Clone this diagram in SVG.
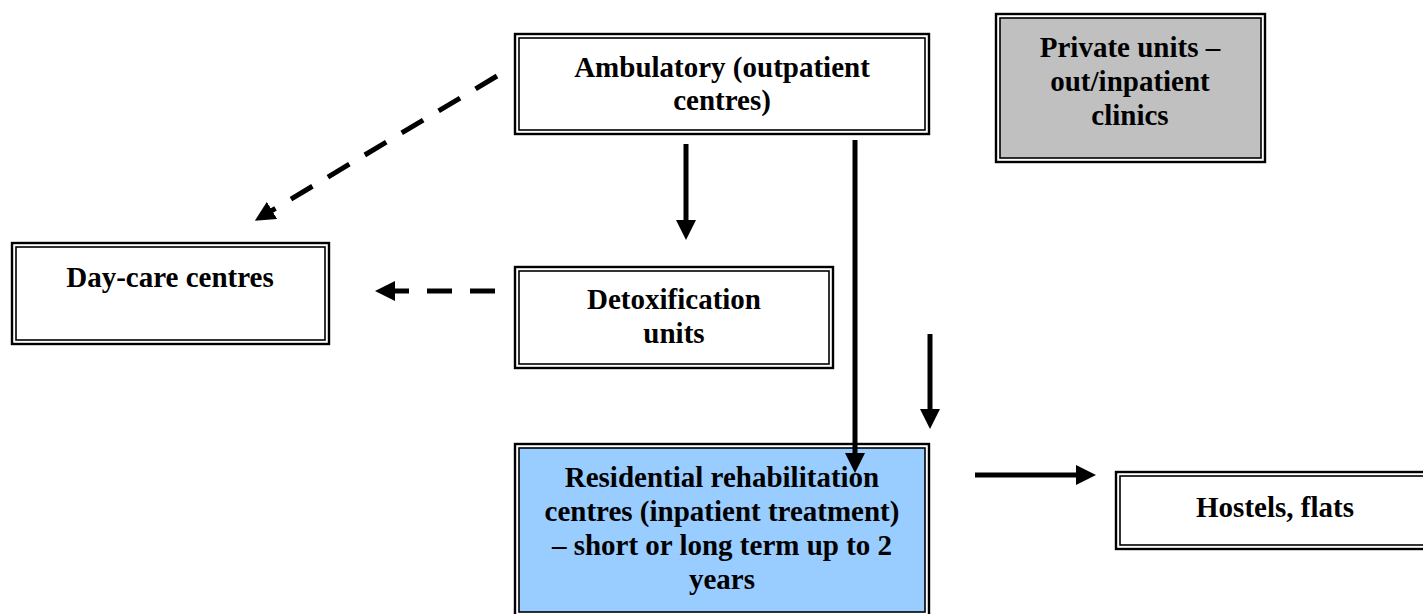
<svg xmlns="http://www.w3.org/2000/svg" width="1423" height="614" viewBox="0 0 1423 614">
  <style>
    .outer { fill: none; stroke: #000; stroke-width: 2.4; }
    .inner { fill: #fff; stroke: #000; stroke-width: 1.6; }
    .grey { fill: #c0c0c0; }
    .blue { fill: #99ccff; }
    .label { font-family: "Liberation Serif", "Times New Roman", serif; font-weight: bold; font-size: 29px; fill: #000; text-anchor: middle; }
    .link { fill: none; stroke: #000; stroke-width: 5; marker-end: url(#head); }
    .dash { stroke-dasharray: 25 18; }
  </style>
  <defs>
    <marker id="head" viewBox="0 0 20 20" markerWidth="20" markerHeight="20" refX="7" refY="10" orient="auto" markerUnits="userSpaceOnUse">
      <path d="M0,0 L20,10 L0,20 z" fill="#000"/>
    </marker>
  </defs>

  <rect width="1423" height="614" fill="#fff"/>

  <!-- Ambulatory (outpatient centres) -->
  <g id="ambulatory">
    <rect class="outer" x="515" y="34" width="414" height="100"/>
    <rect class="inner" x="519" y="38" width="406" height="92"/>
    <text class="label" x="722" y="77">Ambulatory (outpatient</text>
    <text class="label" x="722" y="110">centres)</text>
  </g>

  <!-- Private units -->
  <g id="private-units">
    <rect class="outer" x="996" y="14" width="269" height="148"/>
    <rect class="inner grey" x="1000" y="18" width="261" height="140"/>
    <text class="label" x="1130" y="57">Private units –</text>
    <text class="label" x="1130" y="91">out/inpatient</text>
    <text class="label" x="1130" y="125">clinics</text>
  </g>

  <!-- Day-care centres -->
  <g id="day-care">
    <rect class="outer" x="12" y="243" width="317" height="101"/>
    <rect class="inner" x="16" y="247" width="309" height="93"/>
    <text class="label" x="170" y="287">Day-care centres</text>
  </g>

  <!-- Detoxification units -->
  <g id="detox">
    <rect class="outer" x="515" y="267" width="318" height="101"/>
    <rect class="inner" x="519" y="271" width="310" height="93"/>
    <text class="label" x="674" y="309">Detoxification</text>
    <text class="label" x="674" y="343">units</text>
  </g>

  <!-- Residential rehabilitation centres -->
  <g id="residential">
    <rect class="outer" x="515" y="444" width="414" height="172"/>
    <rect class="inner blue" x="519" y="448" width="406" height="164"/>
    <text class="label" x="722" y="487">Residential rehabilitation</text>
    <text class="label" x="722" y="521">centres (inpatient treatment)</text>
    <text class="label" x="722" y="555">– short or long term up to 2</text>
    <text class="label" x="722" y="589">years</text>
  </g>

  <!-- Hostels, flats -->
  <g id="hostels">
    <rect class="outer" x="1116" y="472" width="322" height="77"/>
    <rect class="inner" x="1120" y="476" width="314" height="69"/>
    <text class="label" x="1275" y="517">Hostels, flats</text>
  </g>

  <!-- Connectors -->
  <g id="connectors">
    <path class="link dash" d="M497,76 L266,214"/>
    <path class="link dash" d="M495,291 L388,291"/>
    <path class="link" stroke-width="4.5" d="M686,144 L686,227"/>
    <path class="link" d="M855,140 L855,460"/>
    <path class="link" stroke-width="4.5" d="M930,334 L930,416"/>
    <path class="link" d="M975,475 L1083,475"/>
  </g>
</svg>
